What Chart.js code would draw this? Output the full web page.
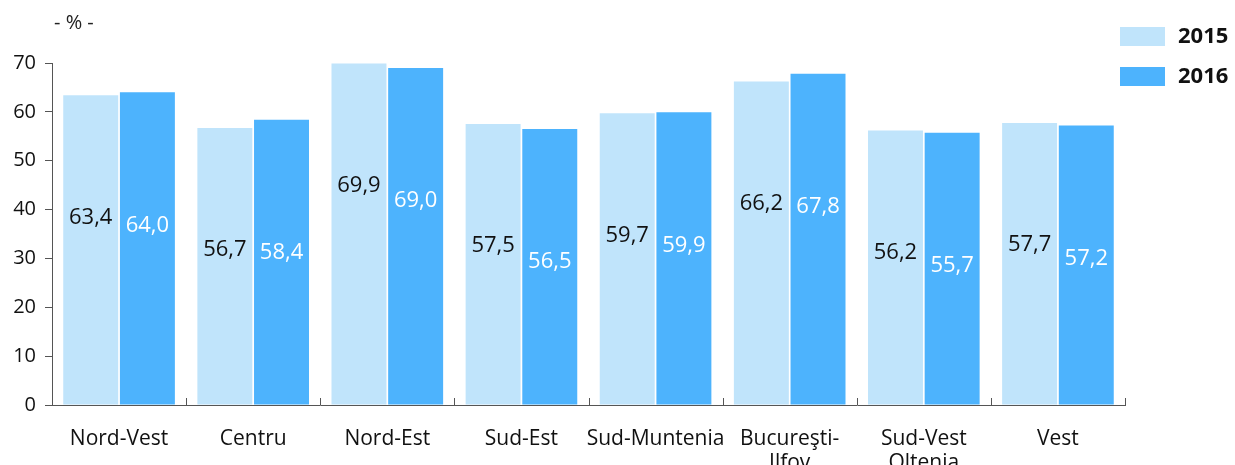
<!DOCTYPE html>
<html>
<head>
<meta charset="utf-8">
<script src="https://cdn.jsdelivr.net/npm/chart.js@4.4.1/dist/chart.umd.min.js"></script>
<style>
  html, body { margin: 0; padding: 0; background: #fff; }
</style>
</head>
<body>
<canvas id="grafic" width="1235" height="465"></canvas>
<script>
// regiuni si valori (%)
const regiuni = ['Nord-Vest', 'Centru', 'Nord-Est', 'Sud-Est', 'Sud-Muntenia', ['Bucureşti-', 'Ilfov'], ['Sud-Vest', 'Oltenia'], 'Vest'];
const valori2015 = [63.4, 56.7, 69.9, 57.5, 59.7, 66.2, 56.2, 57.7];
const valori2016 = [64.0, 58.4, 69.0, 56.5, 59.9, 67.8, 55.7, 57.2];
const ani = ['2015', '2016'];
const yTicks = [0, 10, 20, 30, 40, 50, 60, 70];

const FONT = '"Open Sans", "Noto Sans", sans-serif';
const culori = ['#c0e4fb', '#4db3fd'];
const culoriText = ['#111', '#fff'];
const axa = '#555';

// etichete valori, legenda, unitate si marcaje pe axa X
const extra = {
  id: 'extra',
  afterDatasetsDraw(chart) {
    const { ctx, chartArea } = chart;
    ctx.save();
    ctx.font = '22px ' + FONT;
    ctx.textAlign = 'center';
    ctx.textBaseline = 'middle';
    chart.data.datasets.forEach((ds, i) => {
      const meta = chart.getDatasetMeta(i);
      meta.data.forEach((bar, j) => {
        ctx.fillStyle = culoriText[i];
        const off = i === 0 ? 122 : 133;
        ctx.fillText(ds.data[j].toFixed(1).replace('.', ','), bar.x, bar.y + off);
      });
    });

    // marcaje intre categorii + prelungirea axei spre stanga
    const step = (chartArea.right - chartArea.left) / regiuni.length;
    ctx.strokeStyle = axa;
    ctx.lineWidth = 1;
    for (let k = 1; k <= regiuni.length; k++) {
      const px = Math.round(chartArea.left + k * step) + 0.5;
      ctx.beginPath();
      ctx.moveTo(px, chartArea.bottom);
      ctx.lineTo(px, chartArea.bottom - 7);
      ctx.stroke();
    }

    // unitate
    ctx.fillStyle = '#222';
    ctx.font = '20px ' + FONT;
    ctx.textAlign = 'left';
    ctx.fillText('- % -', 54, 23);

    // legenda
    ctx.font = 'bold 22px ' + FONT;
    chart.data.datasets.forEach((ds, i) => {
      const yy = 37 + i * 40;
      ctx.fillStyle = ds.backgroundColor;
      ctx.fillRect(1120, yy - 10, 45, 19);
      ctx.fillStyle = '#111';
      ctx.fillText(ds.label, 1178, yy);
    });
    ctx.restore();
  }
};

new Chart(document.getElementById('grafic').getContext('2d'), {
  type: 'bar',
  data: {
    labels: regiuni,
    datasets: ani.map((an, i) => ({
      label: an,
      data: i === 0 ? valori2015 : valori2016,
      backgroundColor: culori[i],
      borderWidth: 0,
      categoryPercentage: 0.845,
      barPercentage: 0.97
    }))
  },
  options: {
    responsive: false,
    animation: false,
    devicePixelRatio: 1,
    layout: { padding: { left: 0, top: 63, right: 110, bottom: 0 } },
    plugins: { legend: { display: false }, tooltip: { enabled: false } },
    scales: {
      x: {
        afterFit: s => { s.height = 60; },
        grid: { display: false },
        border: { display: true, color: axa, width: 1 },
        ticks: { color: '#111', font: { family: FONT, size: 21, lineHeight: 1.15 }, padding: 14, maxRotation: 0, autoSkip: false }
      },
      y: {
        min: 0,
        max: 70,
        afterBuildTicks: s => { s.ticks = yTicks.map(v => ({ value: v })); },
        afterFit: s => { s.width = 52; },
        grid: { drawOnChartArea: false, tickLength: 7, color: axa },
        border: { display: true, color: axa, width: 1 },
        ticks: { color: '#111', font: { family: FONT, size: 20 }, padding: 9 }
      }
    }
  },
  plugins: [extra]
});
</script>
</body>
</html>
